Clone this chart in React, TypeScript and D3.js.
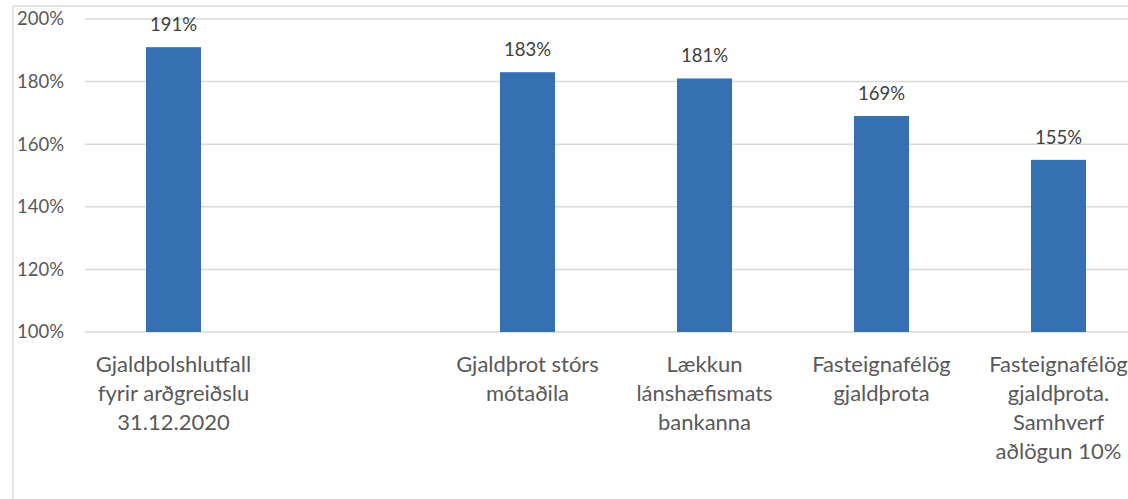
import React from "react";
import * as d3 from "d3";

// Solvency ratio scenarios (values in %)
const categories: string[][] = [
  ["Gjaldþolshlutfall", "fyrir arðgreiðslu", "31.12.2020"],
  [],
  ["Gjaldþrot stórs", "mótaðila"],
  ["Lækkun", "lánshæfismats", "bankanna"],
  ["Fasteignafélög", "gjaldþrota"],
  ["Fasteignafélög", "gjaldþrota.", "Samhverf", "aðlögun 10%"],
];
const values: (number | null)[] = [191, null, 183, 181, 169, 155];
const yTicks: number[] = [100, 120, 140, 160, 180, 200];

const W = 1128;
const H = 499;
const FONT = "Lato, 'Open Sans', sans-serif";

export default function App() {
  const plotLeft = 85;
  const plotRight = 1147;
  const plotTop = 19;
  const plotBottom = 332;

  const x = d3
    .scaleBand<number>()
    .domain(d3.range(categories.length))
    .range([plotLeft, plotRight])
    .paddingInner(0.689)
    .paddingOuter(0.3445);

  const y = d3.scaleLinear().domain([100, 200]).range([plotBottom, plotTop]);

  const cx = (i: number) => (x(i) as number) + x.bandwidth() / 2;

  return (
    <svg
      width={W}
      height={H}
      style={{ position: "absolute", left: 0, top: 0, background: "#fff" }}
      fontFamily={FONT}
    >
      {/* chart frame */}
      <line x1={13} x2={W} y1={6} y2={6} stroke="#d9d9d9" strokeWidth={1.3} />
      <line x1={13} x2={13} y1={6} y2={H} stroke="#d9d9d9" strokeWidth={1.3} />

      {/* gridlines and y labels */}
      {yTicks.map((t) => (
        <g key={t}>
          <line
            x1={plotLeft}
            x2={plotRight}
            y1={y(t)}
            y2={y(t)}
            stroke="#d9d9d9"
            strokeWidth={1.5}
          />
          <text
            x={64}
            y={y(t)}
            dy="0.35em"
            textAnchor="end"
            fontSize={18.5}
            fill="#595959"
          >
            {d3.format("d")(t)}%
          </text>
        </g>
      ))}

      {/* bars with value labels */}
      {values.map((v, i) =>
        v == null ? null : (
          <g key={i}>
            <rect
              x={x(i)}
              y={y(v)}
              width={x.bandwidth()}
              height={y(100) - y(v)}
              fill="#3570b2"
            />
            <text
              x={cx(i)}
              y={y(v) - 16}
              textAnchor="middle"
              fontSize={18.5}
              fill="#404040"
            >
              {v}%
            </text>
          </g>
        )
      )}

      {/* category labels */}
      {categories.map((lines, i) => (
        <text
          key={i}
          x={cx(i)}
          y={372}
          textAnchor="middle"
          fontSize={22}
          fill="#595959"
        >
          {lines.map((l, j) => (
            <tspan key={j} x={cx(i)} y={372 + j * 29}>
              {l}
            </tspan>
          ))}
        </text>
      ))}
    </svg>
  );
}
